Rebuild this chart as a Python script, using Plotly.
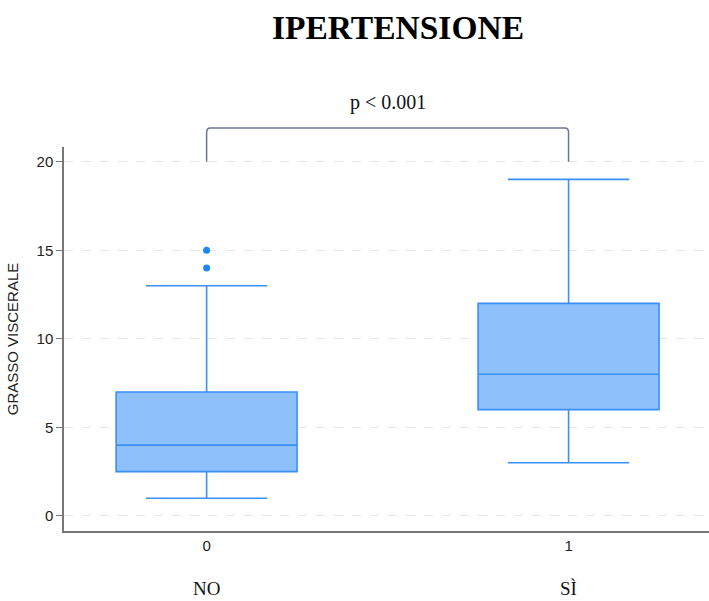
import plotly.graph_objects as go

# Visceral fat by hypertension status (0 = no, 1 = yes)
groups = [0, 1]
group_names = ["NO", "SÌ"]
q1 = [2.5, 6]
median = [4, 8]
q3 = [7, 12]
lower_fence = [1, 3]
upper_fence = [13, 19]
outlier_x = [0, 0]
outlier_y = [14, 15]
y_ticks = [0, 5, 10, 15, 20]
p_label = "p < 0.001"
bracket_base = 20
bracket_top = 21.9

Y_RANGE = [-0.85, 20.83]
X_RANGE = [-0.394, 1.388]

FILL = "#8ec0fc"
EDGE = "#3b8ff5"
DOT = "#1f87f5"

fig = go.Figure()
fig.add_trace(go.Box(
    x=groups, q1=q1, median=median, q3=q3,
    lowerfence=lower_fence, upperfence=upper_fence,
    width=0.5, whiskerwidth=0.67,
    fillcolor=FILL, line=dict(color=EDGE, width=1.6),
    boxpoints=False, showlegend=False, hoverinfo="skip",
))
fig.add_trace(go.Scatter(
    x=outlier_x, y=outlier_y, mode="markers",
    marker=dict(color=DOT, size=7), showlegend=False, hoverinfo="skip",
))


def to_paper(v):
    return (v - Y_RANGE[0]) / (Y_RANGE[1] - Y_RANGE[0])


# significance bracket between the two groups
yb, yt = to_paper(bracket_base), to_paper(bracket_top)
x0, x1 = groups
rx, ry = 0.01, 0.012
path = (f"M {x0},{yb} L {x0},{yt - ry} Q {x0},{yt} {x0 + rx},{yt} "
        f"L {x1 - rx},{yt} Q {x1},{yt} {x1},{yt - ry} L {x1},{yb}")
fig.add_shape(type="path", path=path, xref="x", yref="paper",
              line=dict(color="#6b7890", width=1.5))
fig.add_annotation(x=(x0 + x1) / 2, y=to_paper(bracket_top), xref="x", yref="paper",
                   text=p_label, showarrow=False, yanchor="bottom", yshift=12,
                   font=dict(family="Liberation Serif", size=20, color="#111"))

# group names under the tick labels
for g, name in zip(groups, group_names):
    fig.add_annotation(x=g, y=0, xref="x", yref="paper", text=name,
                       showarrow=False, yanchor="middle", yshift=-57,
                       font=dict(family="Liberation Serif", size=19, color="#111"))

fig.update_layout(
    width=709, height=601,
    margin=dict(l=64, r=0, t=147, b=70),
    paper_bgcolor="white", plot_bgcolor="white",
    title=dict(text="<b>IPERTENSIONE</b>", x=398 / 709, xanchor="center",
               y=1 - 27 / 601, yanchor="middle",
               font=dict(family="Liberation Serif", size=33.5, color="#000")),
    xaxis=dict(range=X_RANGE, tickvals=groups, ticktext=[str(g) for g in groups],
               showgrid=False, zeroline=False, showline=True,
               linecolor="#777", linewidth=1.5, ticks="",
               tickfont=dict(family="Liberation Sans", size=15, color="#222")),
    yaxis=dict(range=Y_RANGE, tickvals=y_ticks, showgrid=True,
               gridcolor="#e6e6e6", griddash="dash", gridwidth=1,
               zeroline=False, showline=True, linecolor="#777", linewidth=1.5,
               ticks="outside", ticklen=6, tickcolor="#777",
               tickfont=dict(family="Liberation Sans", size=15, color="#222"),
               title=dict(text="GRASSO VISCERALE", standoff=14,
                          font=dict(family="Liberation Sans", size=15, color="#222"))),
)

fig.write_html("out.html")
